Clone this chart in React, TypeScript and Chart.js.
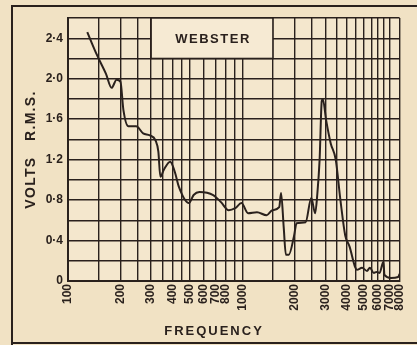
import React, { useEffect, useRef } from 'react';
import { Chart, registerables } from 'chart.js';

Chart.register(...registerables);

// Frequency response curve (Hz, volts RMS)
const frequencies = [
  129, 147, 165, 178, 190, 200, 208, 222, 246, 270, 295, 318, 330, 339, 355, 386, 410, 433,
  494, 526, 568, 681, 755, 836, 911, 990, 1080, 1215, 1380, 1490, 1630, 1670, 1730, 1780,
  1850, 1980, 2050, 2310, 2490, 2620, 2700, 2780, 2860, 2900, 3030, 3220, 3440, 3660, 3900,
  4130, 4440, 4550, 4870, 5200, 5400, 5690, 5900, 6140, 6460, 6550, 7130, 7850, 8000,
];
const volts = [
  2.46, 2.23, 2.05, 1.91, 1.99, 1.97, 1.69, 1.53, 1.53, 1.46, 1.44, 1.39, 1.28, 1.03, 1.1, 1.18, 1.08, 0.93,
  0.77, 0.85, 0.88, 0.85, 0.78, 0.7, 0.72, 0.77, 0.67, 0.68, 0.65, 0.7, 0.73, 0.87, 0.53, 0.26,
  0.26, 0.44, 0.57, 0.58, 0.82, 0.67, 0.87, 1.2, 1.78, 1.8, 1.59, 1.36, 1.2, 0.8, 0.45,
  0.34, 0.14, 0.11, 0.13, 0.1, 0.13, 0.08, 0.09, 0.08, 0.19, 0.06, 0.03, 0.04, 0.07,
];

const gridFrequencies = [
  100, 150, 200, 250, 300, 350, 400, 450, 500, 600, 700, 800, 900, 1000, 1500, 2000, 2500,
  3000, 3500, 4000, 4500, 5000, 5500, 6000, 6500, 7000, 8000,
];
const labeledFrequencies = [100, 200, 300, 400, 500, 600, 700, 800, 1000, 2000, 3000, 4000, 5000, 6000, 7000, 8000];
const voltTickLabels = ['0', '0·4', '0·8', '1·2', '1·6', '2·0', '2·4'];

const chartTitle = 'WEBSTER';
const xTitle = 'FREQUENCY';
const yTitle = 'VOLTS   R.M.S.';

const INK = '#2a211d';
const PAPER = '#f1e2c4';
const PLOT_PAPER = '#f4e7cd';
const FONT = '"Liberation Sans", Arial, sans-serif';

const decor = {
  id: 'decor',
  beforeDraw(chart: any) {
    const { ctx, width, height, chartArea } = chart;
    ctx.save();
    ctx.fillStyle = PAPER;
    ctx.fillRect(0, 0, width, height);
    ctx.fillStyle = PLOT_PAPER;
    ctx.fillRect(chartArea.left, chartArea.top, chartArea.right - chartArea.left, chartArea.bottom - chartArea.top);
    // outer frame
    ctx.strokeStyle = INK;
    ctx.lineWidth = 2;
    ctx.beginPath();
    ctx.moveTo(width, 6);
    ctx.lineTo(12, 6);
    ctx.lineTo(12, height);
    ctx.moveTo(12, 343);
    ctx.lineTo(width, 343);
    ctx.stroke();
    ctx.restore();
  },
  beforeDatasetsDraw(chart: any) {
    const { ctx, scales } = chart;
    const x0 = scales.x.getPixelForValue(300);
    const x1 = scales.x.getPixelForValue(1500);
    const y0 = scales.y.getPixelForValue(2.6);
    const y1 = scales.y.getPixelForValue(2.2);
    ctx.save();
    ctx.fillStyle = '#f6ead3';
    ctx.fillRect(x0, y0, x1 - x0, y1 - y0);
    ctx.strokeStyle = INK;
    ctx.lineWidth = 1.5;
    ctx.strokeRect(x0, y0, x1 - x0, y1 - y0);
    ctx.fillStyle = INK;
    ctx.font = `bold 13px ${FONT}`;
    ctx.textAlign = 'center';
    ctx.textBaseline = 'middle';
    (ctx as any).letterSpacing = '1.5px';
    ctx.fillText(chartTitle, (x0 + x1) / 2 + 1, (y0 + y1) / 2 + 1);
    ctx.restore();
  },
  afterDraw(chart: any) {
    const { ctx, chartArea } = chart;
    ctx.save();
    ctx.fillStyle = INK;
    ctx.textAlign = 'center';
    ctx.textBaseline = 'middle';
    ctx.font = `bold 13px ${FONT}`;
    (ctx as any).letterSpacing = '2px';
    ctx.fillText(xTitle, 214, 331);
    ctx.translate(31, (chartArea.top + chartArea.bottom) / 2);
    ctx.rotate(-Math.PI / 2);
    ctx.font = `bold 14px ${FONT}`;
    (ctx as any).letterSpacing = '1.3px';
    ctx.fillText(yTitle, 0, 0);
    ctx.restore();
  },
};

export default function App() {
  const ref = useRef<HTMLCanvasElement>(null);
  useEffect(() => {
    if (!ref.current) return;
    const points = frequencies.map((f, i) => ({ x: f, y: volts[i] }));
    const chart = new Chart(ref.current, {
      type: 'line',
      data: {
        datasets: [
          {
            data: points,
            borderColor: INK,
            borderWidth: 2,
            pointRadius: 0,
            cubicInterpolationMode: 'monotone',
            fill: false,
          },
        ],
      },
      options: {
        animation: false,
        responsive: true,
        maintainAspectRatio: false,
        layout: { padding: { top: 18, right: 9, left: 0, bottom: 0 } },
        plugins: { legend: { display: false }, tooltip: { enabled: false } },
        scales: {
          x: {
            type: 'logarithmic',
            min: 100,
            max: 8000,
            afterBuildTicks: (scale: any) => {
              scale.ticks = gridFrequencies.map((v) => ({ value: v }));
            },
            afterFit: (scale: any) => {
              scale.height = 64;
            },
            ticks: {
              autoSkip: false,
              minRotation: 90,
              maxRotation: 90,
              padding: 3,
              color: INK,
              font: { family: FONT, size: 12, weight: 'bold' },
              callback: (v: any) => (labeledFrequencies.includes(Number(v)) ? String(v) : ''),
            },
            grid: { color: INK, lineWidth: 1.4, drawTicks: false },
            border: { color: INK, width: 2 },
          },
          y: {
            min: 0,
            max: 2.6,
            afterFit: (scale: any) => {
              scale.width = 68;
            },
            ticks: {
              stepSize: 0.2,
              padding: 5,
              color: INK,
              font: { family: FONT, size: 12, weight: 'bold' },
              callback: (v: any) => {
                const i = Math.round(Number(v) * 10);
                return i % 4 === 0 ? voltTickLabels[i / 4] : '';
              },
            },
            grid: { color: INK, lineWidth: 1.4, drawTicks: false },
            border: { color: INK, width: 2 },
          },
        },
      },
      plugins: [decor],
    });
    return () => chart.destroy();
  }, []);
  return (
    <div style={{ position: 'fixed', left: 0, top: 0, width: 417, height: 345 }}>
      <canvas ref={ref} />
    </div>
  );
}
